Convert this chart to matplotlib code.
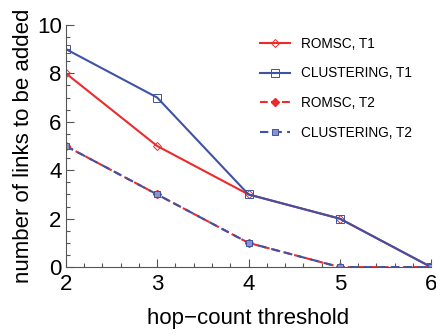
import matplotlib.pyplot as plt
from matplotlib.ticker import MultipleLocator

plt.rcParams['font.family'] = ['Liberation Sans', 'DejaVu Sans']

# hop-count threshold
thresholds = [2, 3, 4, 5, 6]
romsc_t1 = [8, 5, 3, 2, 0]
clustering_t1 = [9, 7, 3, 2, 0]
romsc_t2 = [5, 3, 1, 0, 0]
clustering_t2 = [5, 3, 1, 0, 0]

red = '#ee2a2a'
blue = '#3f52a3'

fig = plt.figure(figsize=(4.36, 3.36), dpi=100)
ax = fig.add_axes([0.151, 0.205, 0.838, 0.721])

ax.plot(thresholds, romsc_t1, color=red, lw=1.5, marker='D', ms=4.5,
        mfc='none', mec=red, mew=0.7, label='ROMSC, T1')
ax.plot(thresholds, clustering_t1, color=blue, lw=1.5, marker='s', ms=5.5,
        mfc='none', mec=blue, mew=0.7, label='CLUSTERING, T1')
ax.plot(thresholds, romsc_t2, color=red, lw=1.5, ls='--', marker='D', ms=4.5,
        mfc=red, mec=red, label='ROMSC, T2')
ax.plot(thresholds, clustering_t2, color=blue, lw=1.5, ls=(0, (4, 2.5)), marker='s', ms=4,
        mfc='#8a94c8', mec=blue, mew=0.7, label='CLUSTERING, T2')

ax.set_xlim(2, 6)
ax.set_ylim(0, 10)
ax.xaxis.set_major_locator(MultipleLocator(1))
ax.xaxis.set_minor_locator(MultipleLocator(0.2))
ax.yaxis.set_major_locator(MultipleLocator(2))
ax.yaxis.set_minor_locator(MultipleLocator(0.5))
ax.tick_params(which='both', direction='in', color='#555555', labelsize=16, width=0.8)
ax.tick_params(which='major', length=6)
ax.tick_params(which='minor', length=3)
ax.tick_params(axis='x', pad=5)
ax.tick_params(axis='y', pad=3)
for side in ['top', 'right']:
    ax.spines[side].set_visible(False)
for side in ['left', 'bottom']:
    ax.spines[side].set_color('#555555')
    ax.spines[side].set_linewidth(0.8)

ax.set_xlabel('hop\u2212count threshold', fontsize=16, labelpad=9)
ax.set_ylabel('number of links to be added', fontsize=16, labelpad=2)

ax.legend(loc='upper right', bbox_to_anchor=(0.97, 0.985), frameon=False, fontsize=9.8,
          handlelength=2.2, labelspacing=1.15, borderaxespad=0.2)

plt.savefig('out.png', dpi=100)
